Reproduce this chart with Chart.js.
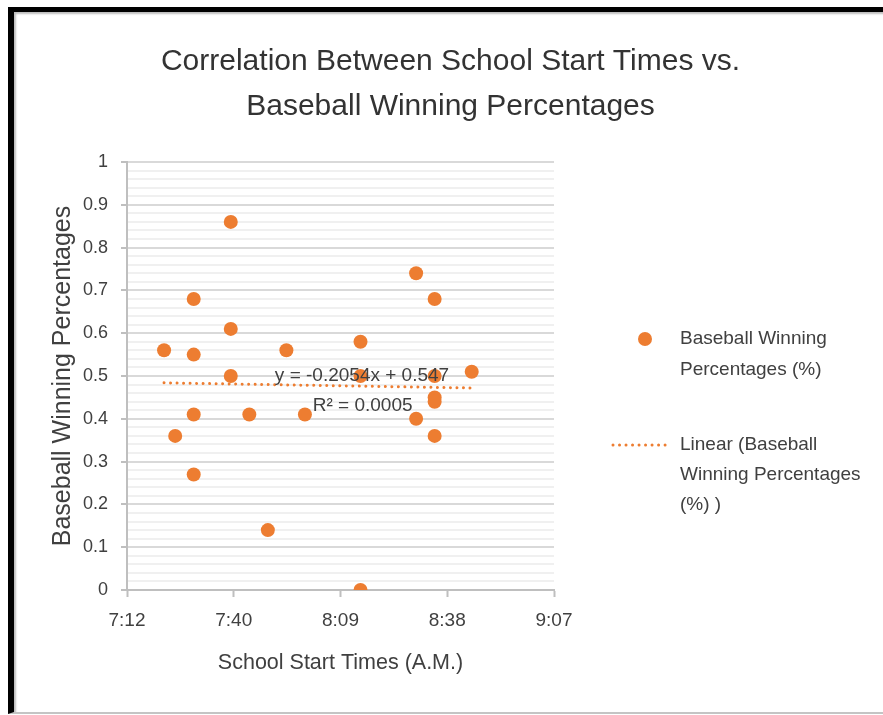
<!DOCTYPE html>
<html>
<head>
<meta charset="utf-8">
<script src="https://cdn.jsdelivr.net/npm/chart.js@4.4.1/dist/chart.umd.min.js"></script>
<style>
    html, body { margin: 0; padding: 0; background: #fff; }
    #wrap { position: relative; width: 883px; height: 715px; overflow: hidden; }
    #wrap canvas { position: absolute; left: 0; top: 0; }
    #frame {
        position: absolute; left: 8px; top: 7px; right: -20px; bottom: 1px;
        border-left: 6px solid #000; border-top: 5px solid #000; border-bottom: 2px solid #c4c4c4;
        box-shadow: inset 2px 2px 2px #bdbdbd; pointer-events: none;
    }
</style>
</head>
<body>
<div id="wrap">
    <canvas id="scatterChart" width="883" height="715"></canvas>
    <div id="frame"></div>
</div>
<script>
// Values
const startTimes = ['7:22', '7:25', '7:30', '7:30', '7:30', '7:30', '7:40', '7:40', '7:40', '7:45', '7:50', '7:55',
                    '8:00', '8:15', '8:15', '8:15', '8:30', '8:30', '8:35', '8:35', '8:35', '8:35', '8:35', '8:45'];
const winPercentages = [0.56, 0.36, 0.68, 0.55, 0.41, 0.27, 0.86, 0.61, 0.50, 0.41, 0.14, 0.56,
                        0.41, 0.58, 0.50, 0.00, 0.74, 0.40, 0.68, 0.50, 0.45, 0.44, 0.36, 0.51];
const trendTimes = ['7:22', '8:45'];
const trendValues = [0.484, 0.472];
const xTickLabels = ['7:12', '7:40', '8:09', '8:38', '9:07'];
const yTickLabels = ['0', '0.1', '0.2', '0.3', '0.4', '0.5', '0.6', '0.7', '0.8', '0.9', '1'];

const ORANGE = '#ED7D31';
const TEXT = '#404040';
const FONT = "'Liberation Sans', Arial, sans-serif";

// Excel stores times as a fraction of a day
function toDayFraction(t) {
    const [h, m] = t.split(':').map(Number);
    return (h * 60 + m) / 1440;
}

function isMajor(v) {
    return Math.round(v * 50) % 5 === 0;
}

// Equation label and the side legend
const annotationPlugin = {
    id: 'annotations',
    afterDraw(chart) {
        const ctx = chart.ctx;
        const xs = chart.scales.x;
        const ys = chart.scales.y;
        ctx.save();
        ctx.font = `19px ${FONT}`;
        ctx.fillStyle = TEXT;
        ctx.textBaseline = 'middle';
        ctx.textAlign = 'left';
        ctx.fillText('y = -0.2054x + 0.547', xs.getPixelForValue(0.3277), ys.getPixelForValue(0.50));
        ctx.fillText('R² = 0.0005', xs.getPixelForValue(0.3348), ys.getPixelForValue(0.43));

        // legend
        const lx = chart.chartArea.right;
        ctx.beginPath();
        ctx.arc(lx + 91, 339, 7, 0, Math.PI * 2);
        ctx.fillStyle = ORANGE;
        ctx.fill();

        ctx.beginPath();
        ctx.setLineDash([0.01, 6.5]);
        ctx.lineCap = 'round';
        ctx.lineWidth = 3;
        ctx.strokeStyle = ORANGE;
        ctx.moveTo(lx + 59, 445);
        ctx.lineTo(lx + 117, 445);
        ctx.stroke();

        ctx.fillStyle = TEXT;
        ctx.fillText('Baseball Winning', lx + 126, 339);
        ctx.fillText('Percentages (%)', lx + 126, 370);
        ctx.fillText('Linear (Baseball', lx + 126, 445);
        ctx.fillText('Winning Percentages', lx + 126, 475);
        ctx.fillText('(%) )', lx + 126, 505);
        ctx.restore();
    }
};

const ctx = document.getElementById('scatterChart').getContext('2d');

new Chart(ctx, {
    type: 'scatter',
    data: {
        datasets: [{
            label: 'Baseball Winning Percentages (%)',
            data: startTimes.map((t, i) => ({ x: toDayFraction(t), y: winPercentages[i] })),
            backgroundColor: ORANGE,
            borderColor: ORANGE,
            borderWidth: 0,
            pointRadius: 7,
            pointHoverRadius: 7,
            order: 2
        }, {
            label: 'Linear (Baseball Winning Percentages (%) )',
            data: trendTimes.map((t, i) => ({ x: toDayFraction(t), y: trendValues[i] })),
            showLine: true,
            borderColor: ORANGE,
            borderWidth: 3,
            borderDash: [0.01, 6.5],
            borderCapStyle: 'round',
            pointRadius: 0,
            order: 1
        }]
    },
    options: {
        responsive: false,
        animation: false,
        layout: {
            padding: { left: 18, right: 0, top: 0, bottom: 25 }
        },
        plugins: {
            legend: { display: false },
            tooltip: { enabled: false },
            title: {
                display: true,
                text: ['Correlation Between School Start Times vs.', 'Baseball Winning Percentages'],
                color: '#333333',
                font: { family: FONT, size: 30, weight: 'normal', lineHeight: 1.5 },
                padding: { top: 39, bottom: 33 }
            }
        },
        scales: {
            x: {
                type: 'linear',
                min: 0.30,
                max: 0.38,
                afterFit: (scale) => { scale.height = 100; },
                ticks: {
                    stepSize: 0.02,
                    color: TEXT,
                    font: { family: FONT, size: 19 },
                    padding: 12,
                    callback: (v, i) => xTickLabels[i]
                },
                grid: {
                    drawOnChartArea: false,
                    drawTicks: true,
                    tickLength: 7,
                    tickColor: '#bfbfbf',
                    tickWidth: 2
                },
                border: { color: '#bfbfbf', width: 2 },
                title: {
                    display: true,
                    text: 'School Start Times (A.M.)',
                    color: TEXT,
                    font: { family: FONT, size: 21.5 },
                    padding: { top: 0, bottom: 14 }
                }
            },
            y: {
                min: 0,
                max: 1,
                afterFit: (scale) => { scale.width = 109; },
                ticks: {
                    stepSize: 0.02,
                    autoSkip: false,
                    color: TEXT,
                    font: { family: FONT, size: 18 },
                    padding: 13,
                    callback: (v) => isMajor(v) ? yTickLabels[Math.round(v * 10)] : ''
                },
                grid: {
                    color: (c) => (c.tick && isMajor(c.tick.value)) ? '#d9d9d9' : '#f0f0f0',
                    lineWidth: 2,
                    tickLength: 6,
                    tickColor: (c) => (c.tick && isMajor(c.tick.value)) ? '#bfbfbf' : 'rgba(0,0,0,0)',
                    tickWidth: 2
                },
                border: { color: '#bfbfbf', width: 2 },
                title: {
                    display: true,
                    text: 'Baseball Winning Percentages',
                    color: TEXT,
                    font: { family: FONT, size: 25 },
                    padding: { top: 30, bottom: 0 }
                }
            },
            // empty right-hand axis that keeps room for the legend
            legendSpace: {
                type: 'linear',
                position: 'right',
                display: true,
                afterFit: (scale) => { scale.width = 329; },
                ticks: { display: false },
                grid: { display: false, drawOnChartArea: false },
                border: { display: false }
            }
        }
    },
    plugins: [annotationPlugin]
});
</script>
</body>
</html>
